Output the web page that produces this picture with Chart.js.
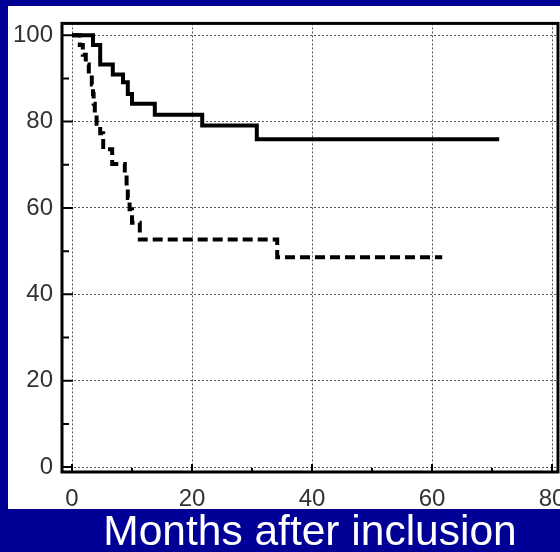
<!DOCTYPE html>
<html>
<head>
<meta charset="utf-8">
<script src="https://cdn.jsdelivr.net/npm/chart.js@4"></script>
<style>
  html, body { margin: 0; padding: 0; background: #000096; }
  #wrap { width: 560px; height: 552px; }
</style>
</head>
<body>
<div id="wrap"><canvas id="kmChart" width="560" height="552"></canvas></div>
<script>
// Kaplan-Meier curves (months, % survival)
const solidMonths = [0, 3.5, 4.7, 6.8, 8.5, 9.3, 10, 13.8, 21.7, 30.8, 71.2];
const solidSurv   = [100, 97.7, 93.2, 90.9, 89.1, 86.4, 84.1, 81.6, 79.1, 75.9, 75.9];

const dashedMonths = [0, 1.3, 1.8, 2.3, 2.8, 3.3, 3.5, 3.6, 3.8, 4.1, 4.7, 5.2, 6.7, 8.8, 9.1, 9.3, 9.6, 10, 11.3, 34.2, 61.7];
const dashedSurv   = [100, 97.7, 95.5, 93.2, 90.9, 88.6, 86.4, 84.1, 81.8, 79.5, 77.3, 73.6, 70.2, 67.5, 65, 62.3, 59.7, 56.6, 52.7, 48.6, 48.6];

const xTicks = [0, 20, 40, 60, 80];
const yTicks = [0, 20, 40, 60, 80, 100];
const xMinor = [10, 30, 50, 70];
const yMinor = [10, 30, 50, 70, 90];

const xTitle = "Months after inclusion";

function toPoints(xs, ys) {
    return xs.map(function (x, i) { return { x: x, y: ys[i] }; });
}

// blue slide background + white panel
const panelBg = {
    id: "panelBg",
    beforeDraw: function (chart) {
        const ctx = chart.ctx;
        ctx.save();
        ctx.fillStyle = "#000096";
        ctx.fillRect(0, 0, chart.width, chart.height);
        ctx.fillStyle = "#ffffff";
        ctx.fillRect(8, 6, chart.width - 8, 503);
        ctx.restore();
    }
};

// plot frame and inward tick marks
const frame = {
    id: "frame",
    afterDatasetsDraw: function (chart) {
        const ctx = chart.ctx;
        const a = chart.chartArea;
        const xs = chart.scales.x, ys = chart.scales.y;
        ctx.save();
        ctx.strokeStyle = "#000";
        ctx.lineWidth = 2;
        ctx.beginPath();
        xTicks.forEach(function (v) {
            const px = xs.getPixelForValue(v);
            ctx.moveTo(px, a.bottom); ctx.lineTo(px, a.bottom - 8);
        });
        xMinor.forEach(function (v) {
            const px = xs.getPixelForValue(v);
            ctx.moveTo(px, a.bottom); ctx.lineTo(px, a.bottom - 4);
        });
        yTicks.forEach(function (v) {
            const py = ys.getPixelForValue(v);
            ctx.moveTo(a.left, py); ctx.lineTo(a.left + 11, py);
        });
        yMinor.forEach(function (v) {
            const py = ys.getPixelForValue(v);
            ctx.moveTo(a.left, py); ctx.lineTo(a.left + 7, py);
        });
        ctx.stroke();
        ctx.lineWidth = 3;
        ctx.strokeRect(a.left, a.top, a.right - a.left, a.bottom - a.top);
        ctx.restore();
    }
};

new Chart(document.getElementById("kmChart"), {
    type: "line",
    data: {
        datasets: [{
            data: toPoints(solidMonths, solidSurv),
            borderColor: "#000",
            borderWidth: 4,
            stepped: true,
            pointRadius: 0,
            fill: false
        }, {
            data: toPoints(dashedMonths, dashedSurv),
            borderColor: "#000",
            borderWidth: 4,
            borderDash: [10, 5],
            stepped: true,
            pointRadius: 0,
            fill: false
        }]
    },
    options: {
        responsive: false,
        animation: false,
        layout: { padding: { top: 15, right: 2, left: 0, bottom: 0 } },
        plugins: {
            legend: { display: false },
            tooltip: { enabled: false }
        },
        scales: {
            x: {
                type: "linear",
                min: -1.667,
                max: 81,
                afterBuildTicks: function (axis) {
                    axis.ticks = xTicks.map(function (v) { return { value: v }; });
                },
                afterFit: function (axis) {
                    axis.height = 80;
                    axis.paddingLeft = 0;
                    axis.paddingRight = 0;
                },
                grid: { color: "#555", lineWidth: 1, drawTicks: false },
                border: { display: false, dash: [2, 2] },
                ticks: {
                    autoSkip: false,
                    maxRotation: 0,
                    padding: 13,
                    color: "#333",
                    font: { family: "'Liberation Sans', Arial, sans-serif", size: 24 }
                },
                title: {
                    display: true,
                    text: xTitle,
                    color: "#fff",
                    padding: 0,
                    font: { family: "'Liberation Sans', Arial, sans-serif", size: 42.5, lineHeight: 0.86 }
                }
            },
            y: {
                min: -1.136,
                max: 102.73,
                afterBuildTicks: function (axis) {
                    axis.ticks = yTicks.map(function (v) { return { value: v }; });
                },
                afterFit: function (axis) {
                    axis.width = 62;
                },
                grid: { color: "#555", lineWidth: 1, drawTicks: false },
                border: { display: false, dash: [2, 2] },
                ticks: {
                    padding: 9,
                    color: "#333",
                    font: { family: "'Liberation Sans', Arial, sans-serif", size: 24 }
                }
            }
        }
    },
    plugins: [panelBg, frame]
});
</script>
</body>
</html>
